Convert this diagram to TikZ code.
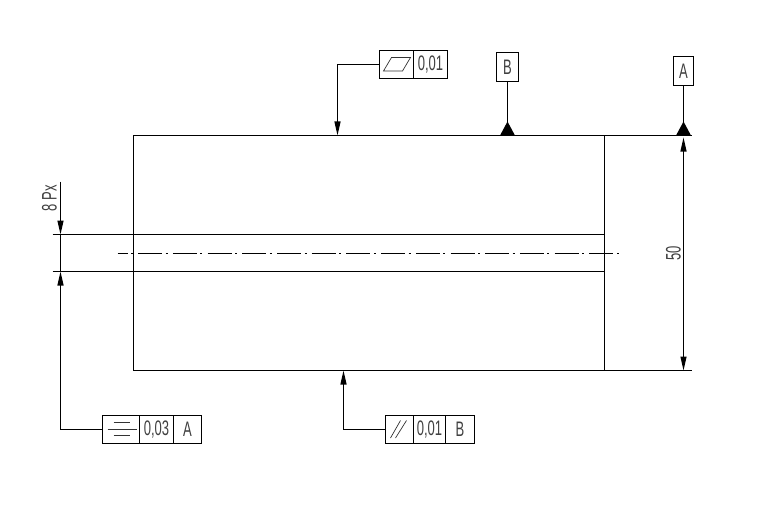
\documentclass[tikz,border=0pt]{standalone}
\usepackage{fontspec}
\setmainfont{Liberation Sans}
\usetikzlibrary{arrows.meta}
\tikzset{
  line/.style={draw=black,line width=1.2pt},
  thin sym/.style={draw=black!80,line width=.7pt},
  cell/.style={line,rectangle,inner sep=0pt,outer sep=0pt,anchor=north west,font=\fontsize{21}{21}\selectfont,text=black!75},
  lead/.style={line,-{Triangle[width=6pt,length=14pt]}},
  dim/.style={line,{Triangle[width=6pt,length=14pt]}-{Triangle[width=6pt,length=14pt]}},
  datum/.style={fill=black,draw=none},
  lbl/.style={inner sep=0pt,font=\fontsize{21}{21}\selectfont,text=black!75,rotate=90},
  centre/.style={draw=black,line width=1.1pt,dash pattern=on 24pt off 3.5pt on 2pt off 5.2pt,dash phase=14pt}
}
\newcommand{\nar}[1]{\scalebox{.62}[1]{#1}}
\begin{document}
\begin{tikzpicture}[x=1pt,y=-1pt]
\useasboundingbox (0,0) rectangle (760,532);
\begin{scope}[shift={(0.5,0.5)}]
% part outline
\node[line,rectangle,minimum width=471pt,minimum height=235pt,inner sep=0pt,outer sep=0pt,anchor=north west] (part) at (133,135) {};
% extension lines
\coordinate (topext) at (691,135);
\coordinate (botext) at (691,370);
\draw[line] (part.north east) -- (topext);
\draw[line] (part.south east) -- (botext);
% bore lines
\coordinate (boreTL) at (52,234);
\coordinate (boreTR) at (604,234);
\coordinate (boreBL) at (52,271);
\coordinate (boreBR) at (604,271);
\draw[line] (boreTL) -- (boreTR);
\draw[line] (boreBL) -- (boreBR);
% centre line
\coordinate (cL) at (117,253);
\coordinate (cR) at (618,253);
\draw[centre] (cL) -- (cR);
% flatness frame
\node[cell,minimum width=34pt,minimum height=28pt] (flatA) at (379,50) {};
\node[cell,minimum width=34pt,minimum height=28pt] (flatB) at (413,50) {\nar{0,01}};
\draw[thin sym] (383,70.5) -- (391,57) -- (410,57) -- (402,70.5) -- cycle;
\coordinate (flatTip) at (337,135);
\draw[lead] (flatA.west) -| (flatTip);
% datum B
\node[cell,minimum width=22pt,minimum height=29pt] (datB) at (496,52) {\nar{B}};
\coordinate (datBfoot) at (datB.south |- part.north);
\draw[line] (datB.south) -- (datBfoot);
\fill[datum] ([xshift=-7.5pt]datBfoot) -- ([yshift=14pt]datBfoot) -- ([xshift=7.5pt]datBfoot) -- cycle;
% datum A
\node[cell,minimum width=20pt,minimum height=29pt] (datA) at (673,56) {\nar{A}};
\coordinate (datAfoot) at (datA.south |- part.north);
\coordinate (datAbot) at (datA.south |- part.south);
\draw[line] (datA.south) -- (datAfoot);
\fill[datum] ([xshift=-7.5pt]datAfoot) -- ([yshift=14pt]datAfoot) -- ([xshift=7.5pt]datAfoot) -- cycle;
% dimension 50
\draw[dim] ([yshift=-2pt]datAfoot) -- (datAbot);
\node[lbl] (dimfifty) at (673,253) {\nar{50}};
% bore dimension
\coordinate (bdTop) at (60,181);
\coordinate (bdA) at (60,234);
\coordinate (bdB) at (60,271);
\draw[lead] (bdTop) -- (bdA);
\draw[line] (bdA) -- (bdB);
\node[lbl] (dimeight) at (49,197.5) {\nar{8 Px}};
% symmetry frame
\node[cell,minimum width=37pt,minimum height=28pt] (symA) at (102,415) {};
\node[cell,minimum width=34pt,minimum height=28pt] (symB) at (139,415) {\nar{0,03}};
\node[cell,minimum width=28pt,minimum height=28pt] (symC) at (173,415) {\nar{A}};
\draw[thin sym] (113,422) -- (129,422);
\draw[thin sym] (107,429) -- (136,429);
\draw[thin sym] (113,435) -- (129,435);
\draw[lead] (symA.west) -| (bdB);
% parallelism frame
\node[cell,minimum width=28pt,minimum height=28pt] (parA) at (385,415) {};
\node[cell,minimum width=32pt,minimum height=28pt] (parB) at (413,415) {\nar{0,01}};
\node[cell,minimum width=29pt,minimum height=28pt] (parC) at (445,415) {\nar{B}};
\draw[thin sym] (390,437.5) -- (400,420);
\draw[thin sym] (395,437.5) -- (406,420);
\coordinate (parTip) at (343,370);
\draw[lead] (parA.west) -| (parTip);
\end{scope}
\end{tikzpicture}
\end{document}
